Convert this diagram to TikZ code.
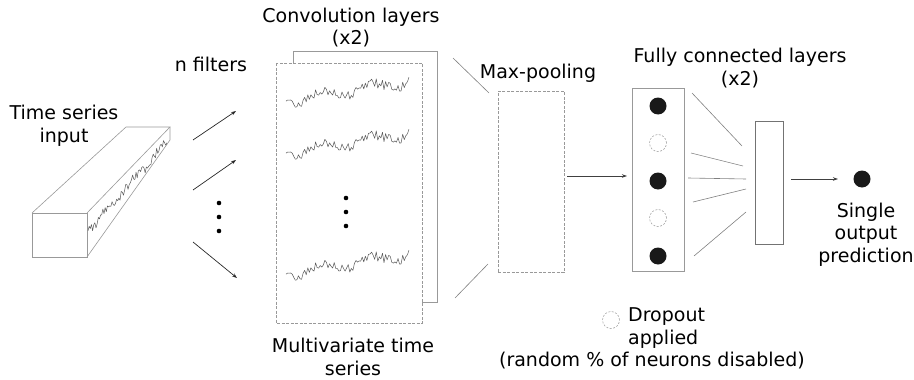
\documentclass[tikz,border=0pt]{standalone}
\usepackage{fontspec}
\setmainfont{DejaVu Sans}
\usetikzlibrary{arrows.meta}
\definecolor{boxgray}{gray}{0.6}
\definecolor{dotblack}{gray}{0.1}
\newcommand{\convsig}[1]{%
  \pgfmathsetseed{11}%
  \draw[sig] plot[domain=0:1,samples=80]
    ({286+123*\x},{#1+8-19*\x+4*sin(\x*900)+5*rand});}
\begin{document}
\begin{tikzpicture}[x=1pt,y=-1pt,
  lbl/.style={font=\fontsize{19}{22.5}\selectfont, align=center, inner sep=0pt, anchor=base},
  graybox/.style={draw=boxgray, line width=0.8pt},
  dashbox/.style={draw=boxgray, line width=0.8pt, dash pattern=on 3pt off 1.5pt},
  arr/.style={draw=black!85, line width=0.7pt, -{Stealth[length=5pt,width=3.5pt]}},
  link/.style={draw=gray, line width=0.6pt},
  sig/.style={draw=black!65, line width=0.5pt, line join=round},
  neuron/.style={circle, fill=dotblack, minimum size=17pt, inner sep=0pt},
  dropn/.style={circle, draw=gray!80, dash pattern=on 2pt off 1.5pt, line width=0.5pt, minimum size=17pt, inner sep=0pt},
  vdot/.style={circle, fill=black, minimum size=4.6pt, inner sep=0pt}]
\useasboundingbox (0,0) rectangle (914,380);

% ---- input prism
\coordinate (f1) at (32,213);
\coordinate (f2) at (87,213);
\coordinate (f3) at (87,257);
\coordinate (f4) at (32,257);
\coordinate (b1) at (126,127);
\coordinate (b2) at (170,127);
\coordinate (b3) at (170,140);
\draw[graybox, line width=0.6pt] (f1) rectangle (f3);
\draw[graybox, line width=0.6pt] (f1) -- (b1) -- (b2) -- (f2);
\draw[graybox, line width=0.6pt] (b2) -- (b3) -- (f3);
\pgfmathsetseed{5}
\draw[sig] plot[domain=0:1,samples=70] ({88+79*\x},{231-89*\x+4.5*rand+2*sin(\x*1100)});
\node[lbl] (tin) at (64,142) {Time series\\input};

% ---- n filters
\node[lbl] (nf) at (211,71) {n filters};
\coordinate (a1s) at (193,140); \coordinate (a1e) at (236,111);
\coordinate (a2s) at (193,190); \coordinate (a2e) at (236,160);
\coordinate (a3s) at (193,242); \coordinate (a3e) at (237,278);
\draw[arr] (a1s) -- (a1e);
\draw[arr] (a2s) -- (a2e);
\draw[arr] (a3s) -- (a3e);
\node[vdot] (d1) at (219,203) {};
\node[vdot] (d2) at (219,217) {};
\node[vdot] (d3) at (219,231) {};

% ---- convolution layers
\draw[graybox] (293,51) rectangle (437,302);
\draw[dashbox, fill=white] (276,63) rectangle (422,323);
\convsig{93}
\convsig{145}
\convsig{266}
\node[vdot] (c1) at (346,198) {};
\node[vdot] (c2) at (346,212) {};
\node[vdot] (c3) at (346,226) {};
\node[lbl] (conv) at (351,45) {Convolution layers\\(x2)};
\node[lbl] (mvt) at (353,375) {Multivariate time\\series};

% ---- max pooling
\node[dashbox, minimum width=66pt, minimum height=181pt, inner sep=0pt] (mp) at (531,181.5) {};
\coordinate (l1s) at (453,58); \coordinate (l1e) at (489,93);
\coordinate (l2s) at (488,264); \coordinate (l2e) at (455,298);
\draw[link] (l1s) -- (l1e);
\draw[link] (l2s) -- (l2e);
\node[lbl] (mptxt) at (538,78) {Max-pooling};

% ---- fully connected
\node[graybox, minimum width=52pt, minimum height=183pt, inner sep=0pt] (fc) at (658,179.5) {};
\coordinate (fcin) at (627,176);
\draw[arr, draw=black!75] (mp.east |- fcin) ++(3,0) -- (fcin);
\node[neuron] (n1) at (658,106) {};
\node[dropn] (n2) at (658,143) {};
\node[neuron] (n3) at (658,181) {};
\node[dropn] (n4) at (658,218) {};
\node[neuron] (n5) at (658,256) {};
\node[lbl] (fctxt) at (740,85) {Fully connected layers\\(x2)};

\node[draw=gray!90!black, line width=0.8pt, minimum width=28pt, minimum height=123pt, inner sep=0pt] (fc2) at (769,182.5) {};
\coordinate (k1s) at (692,93);  \coordinate (k1e) at (742,146);
\coordinate (k2s) at (691,153); \coordinate (k2e) at (743,166);
\coordinate (k3s) at (688,178); \coordinate (k3e) at (746,179);
\coordinate (k4s) at (693,202); \coordinate (k4e) at (746,189);
\coordinate (k5s) at (694,256); \coordinate (k5e) at (746,212);
\foreach \i in {1,...,5} {\draw[link] (k\i s) -- (k\i e);}

% ---- output
\node[neuron, minimum size=17pt] (out) at (862,179) {};
\coordinate (o1) at (791,179);
\draw[arr, draw=black!75] (o1) -- ([xshift=-24pt]out.center);
\node[lbl] (outtxt) at (866,262) {Single\\output\\prediction};

% ---- legend
\node[dropn] (leg) at (611,320) {};
\node[lbl, align=left, anchor=base west] (legtxt) at (628,344) {Dropout\\applied};
\node[lbl] (legtxt2) at (652,366) {(random \% of neurons disabled)};
\end{tikzpicture}
\end{document}
